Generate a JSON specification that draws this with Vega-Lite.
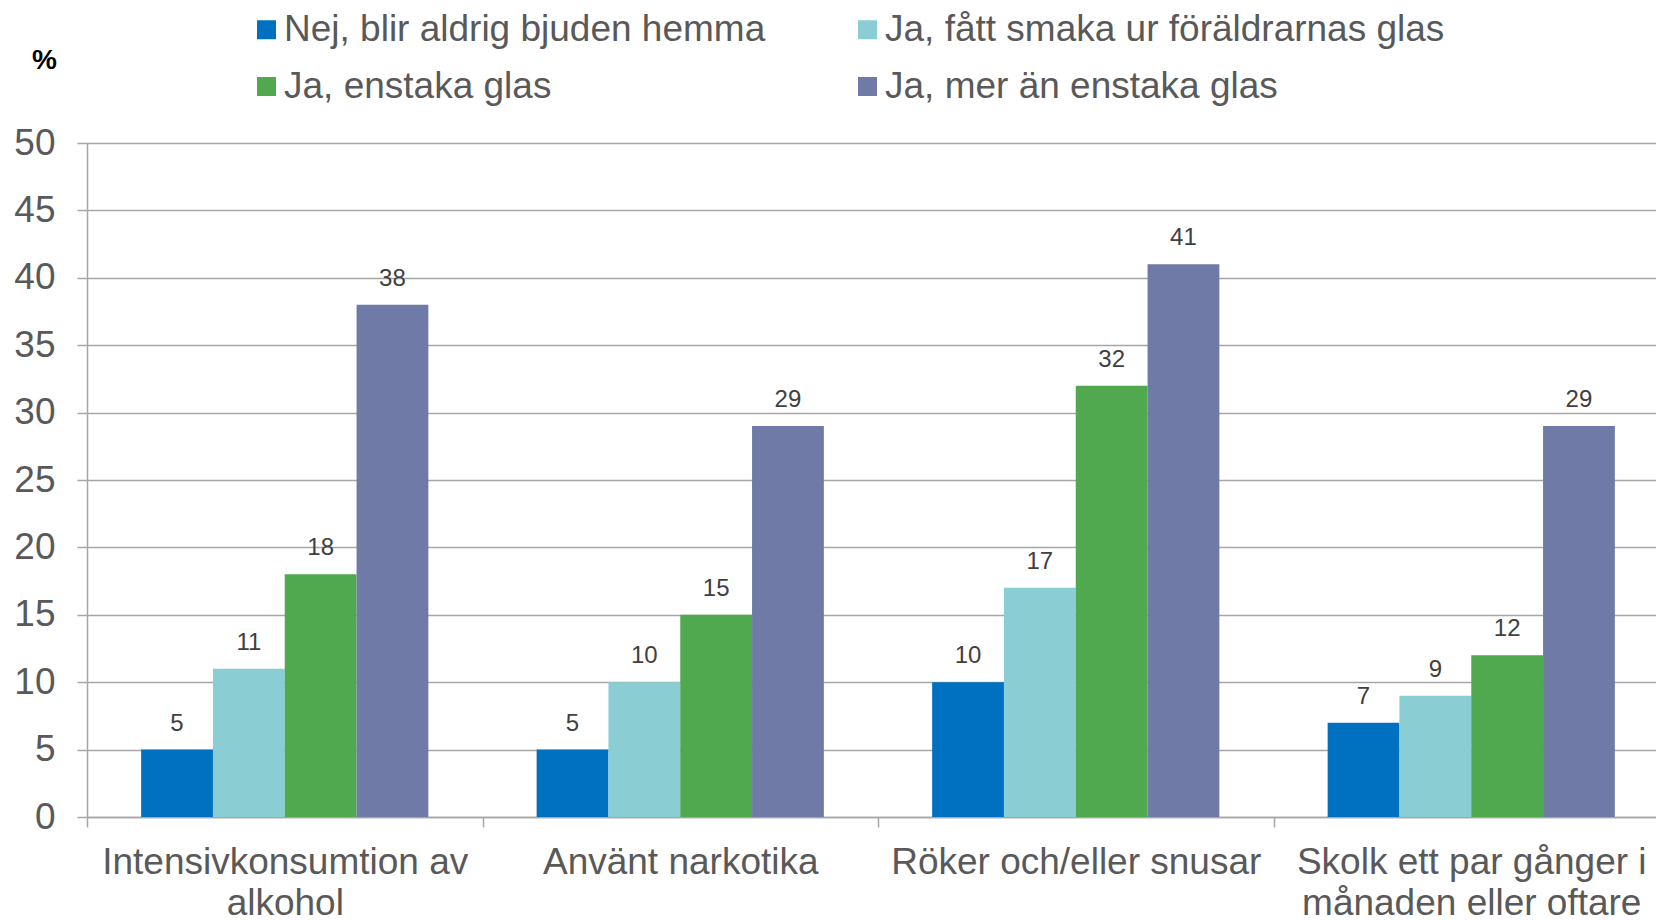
{
  "$schema": "https://vega.github.io/schema/vega-lite/v6.json",
  "autosize": {"type": "none"},
  "width": 1569,
  "height": 674,
  "padding": {"left": 87, "top": 143, "right": 0, "bottom": 103},
  "background": "white",
  "config": {
    "font": "Liberation Sans",
    "view": {"stroke": null}
  },
  "data": {
    "values": [
      {"kategori": "Intensivkonsumtion av|alkohol", "svar": "Nej, blir aldrig bjuden hemma", "procent": 5},
      {"kategori": "Intensivkonsumtion av|alkohol", "svar": "Ja, fått smaka ur föräldrarnas glas", "procent": 11},
      {"kategori": "Intensivkonsumtion av|alkohol", "svar": "Ja, enstaka glas", "procent": 18},
      {"kategori": "Intensivkonsumtion av|alkohol", "svar": "Ja, mer än enstaka glas", "procent": 38},
      {"kategori": "Använt narkotika", "svar": "Nej, blir aldrig bjuden hemma", "procent": 5},
      {"kategori": "Använt narkotika", "svar": "Ja, fått smaka ur föräldrarnas glas", "procent": 10},
      {"kategori": "Använt narkotika", "svar": "Ja, enstaka glas", "procent": 15},
      {"kategori": "Använt narkotika", "svar": "Ja, mer än enstaka glas", "procent": 29},
      {"kategori": "Röker och/eller snusar", "svar": "Nej, blir aldrig bjuden hemma", "procent": 10},
      {"kategori": "Röker och/eller snusar", "svar": "Ja, fått smaka ur föräldrarnas glas", "procent": 17},
      {"kategori": "Röker och/eller snusar", "svar": "Ja, enstaka glas", "procent": 32},
      {"kategori": "Röker och/eller snusar", "svar": "Ja, mer än enstaka glas", "procent": 41},
      {"kategori": "Skolk ett par gånger i|månaden eller oftare", "svar": "Nej, blir aldrig bjuden hemma", "procent": 7},
      {"kategori": "Skolk ett par gånger i|månaden eller oftare", "svar": "Ja, fått smaka ur föräldrarnas glas", "procent": 9},
      {"kategori": "Skolk ett par gånger i|månaden eller oftare", "svar": "Ja, enstaka glas", "procent": 12},
      {"kategori": "Skolk ett par gånger i|månaden eller oftare", "svar": "Ja, mer än enstaka glas", "procent": 29}
    ]
  },
  "encoding": {
    "x": {
      "field": "kategori",
      "type": "nominal",
      "sort": null,
      "scale": {"range": [0, 1582], "paddingInner": 0, "paddingOuter": 0},
      "axis": {
        "title": null,
        "labelAngle": 0,
        "labelExpr": "split(datum.label, '|')",
        "labelFontSize": 37,
        "labelColor": "#595959",
        "labelLineHeight": 41,
        "labelPadding": 17,
        "labelLimit": 0,
        "tickBand": "extent",
        "tickSize": 10,
        "tickColor": "#A6A6A6",
        "tickWidth": 1.5,
        "domainColor": "#A6A6A6",
        "domainWidth": 1.5,
        "grid": false
      }
    },
    "xOffset": {
      "field": "svar",
      "type": "nominal",
      "sort": null,
      "scale": {"paddingInner": 0, "paddingOuter": 0.754}
    },
    "y": {
      "field": "procent",
      "type": "quantitative",
      "scale": {"domain": [0, 50], "nice": false},
      "axis": {
        "values": [0, 5, 10, 15, 20, 25, 30, 35, 40, 45, 50],
        "title": "%",
        "titleAngle": 0,
        "titleX": -43,
        "titleY": -75,
        "titleAlign": "center",
        "titleBaseline": "alphabetic",
        "titleFontSize": 28,
        "titleFontWeight": "bold",
        "titleColor": "#000000",
        "labelFontSize": 37,
        "labelColor": "#595959",
        "labelPadding": 22,
        "tickSize": 10,
        "tickColor": "#A6A6A6",
        "tickWidth": 1.5,
        "domainColor": "#A6A6A6",
        "domainWidth": 1.5,
        "grid": true,
        "gridColor": "#A6A6A6",
        "gridWidth": 1.5
      }
    }
  },
  "layer": [
    {
      "mark": {"type": "bar"},
      "encoding": {
        "color": {
          "field": "svar",
          "type": "nominal",
          "scale": {
            "domain": ["Nej, blir aldrig bjuden hemma", "Ja, enstaka glas", "Ja, fått smaka ur föräldrarnas glas", "Ja, mer än enstaka glas"],
            "range": ["#0070C0", "#51A94F", "#8ACDD2", "#6F7BA6"]
          },
          "legend": {
            "title": null,
            "orient": "none",
            "legendX": 161,
            "legendY": -132,
            "columns": 2,
            "columnPadding": 83,
            "rowPadding": 19,
            "symbolType": "square",
            "symbolSize": 361,
            "symbolStrokeWidth": 0,
            "labelFontSize": 37,
            "labelColor": "#595959",
            "labelOffset": -1,
            "labelLimit": 0,
            "padding": 0
          }
        }
      }
    },
    {
      "mark": {"type": "text", "baseline": "alphabetic", "dy": -19, "fontSize": 24, "color": "#404040"},
      "encoding": {
        "text": {"field": "procent", "type": "quantitative"}
      }
    }
  ]
}
